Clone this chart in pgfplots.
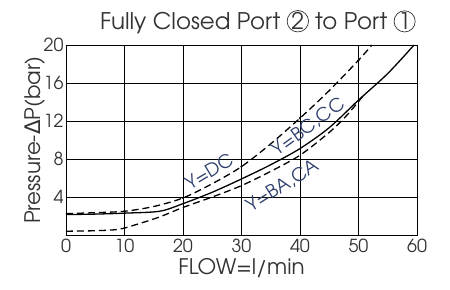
\documentclass[border=0pt]{standalone}
\usepackage{fontspec}
\setmainfont{texgyreadventor}[Extension=.otf, UprightFont=*-regular, BoldFont=*-bold]
\newfontfamily\dejavu{DejaVu Sans}
\usepackage{pgfplots}
\pgfplotsset{compat=1.18}
\definecolor{lbl}{HTML}{2E3F6E}
\definecolor{tk}{HTML}{333333}
\newcommand\circnum[1]{\tikz[baseline=(c.base)]\node[draw=tk, circle, line width=0.7pt, minimum size=20bp, inner sep=0pt](c){#1};}
\begin{document}
\begin{tikzpicture}
\useasboundingbox (-66bp,-55bp) rectangle (384bp,235bp);
\begin{axis}[
  scale only axis, width=351bp, height=190bp,
  xmin=0, xmax=60, ymin=0, ymax=20,
  xtick={0,10,...,60}, ytick={4,8,12,16,20},
  grid=major, major grid style={black, line width=0.7pt},
  axis line style={black, line width=0.9pt},
  major tick length=0pt,
  tick label style={font=\fontsize{18}{18}\selectfont, text=tk},
  /pgf/number format/assume math mode=true,
  xticklabel style={yshift=0bp},
  yticklabel style={xshift=1bp},
  xlabel={FLOW=l/min}, ylabel={Pressure-{\dejavu Δ}P(bar)},
  label style={font=\fontsize{21.5}{21.5}\selectfont, text=tk},
  xlabel style={yshift=1bp},
  ylabel style={yshift=-9bp},
  clip=false,
]
\addplot[black, line width=1.3pt, smooth] coordinates {
 (0,2.15) (5,2.2) (10,2.3) (16,2.5) (20,3.3) (25,4.5) (30,5.9) (35,7.4) (40,9.1) (45,11.3) (50,14.2) (55,17.0) (59.5,20)};
\addplot[black, line width=1.3pt, dash pattern=on 7pt off 4pt, smooth] coordinates {
 (0,2.25) (5,2.35) (10,2.5) (15,3.0) (20,3.9) (25,5.4) (30,7.2) (35,9.6) (40,12.3) (45,15.2) (50,18.4) (52.3,20)};
\addplot[black, line width=1.3pt, dash pattern=on 7pt off 4pt, smooth] coordinates {
 (0,0.4) (5,0.45) (9,0.6) (12,1.1) (16,1.9) (20,2.9) (25,4.0) (30,5.2) (35,6.7) (40,8.4) (45,10.8) (48,12.6) (51,14.8)};
\addplot[only marks, mark=*, mark size=0.9pt, black] coordinates {
 (10,2.5) (20,3.9) (30,7.2) (40,12.3) (50,18.4)};
\node[text=lbl, rotate=31, font=\fontsize{18.5}{18.5}\selectfont] at (axis cs:24.5,6.7) {Y=DC};
\node[text=lbl, rotate=36, font=\fontsize{18.5}{18.5}\selectfont] at (axis cs:41.4,11.4) {Y=BC,CC};
\node[text=lbl, rotate=32, font=\fontsize{18.5}{18.5}\selectfont] at (axis cs:37.0,5.2) {Y=BA,CA};
\node[text=tk, font=\fontsize{23}{23}\selectfont] at (axis cs:32.8,22.4) {Fully Closed Port \circnum{2} to Port \circnum{1}};
\end{axis}
\end{tikzpicture}
\end{document}
